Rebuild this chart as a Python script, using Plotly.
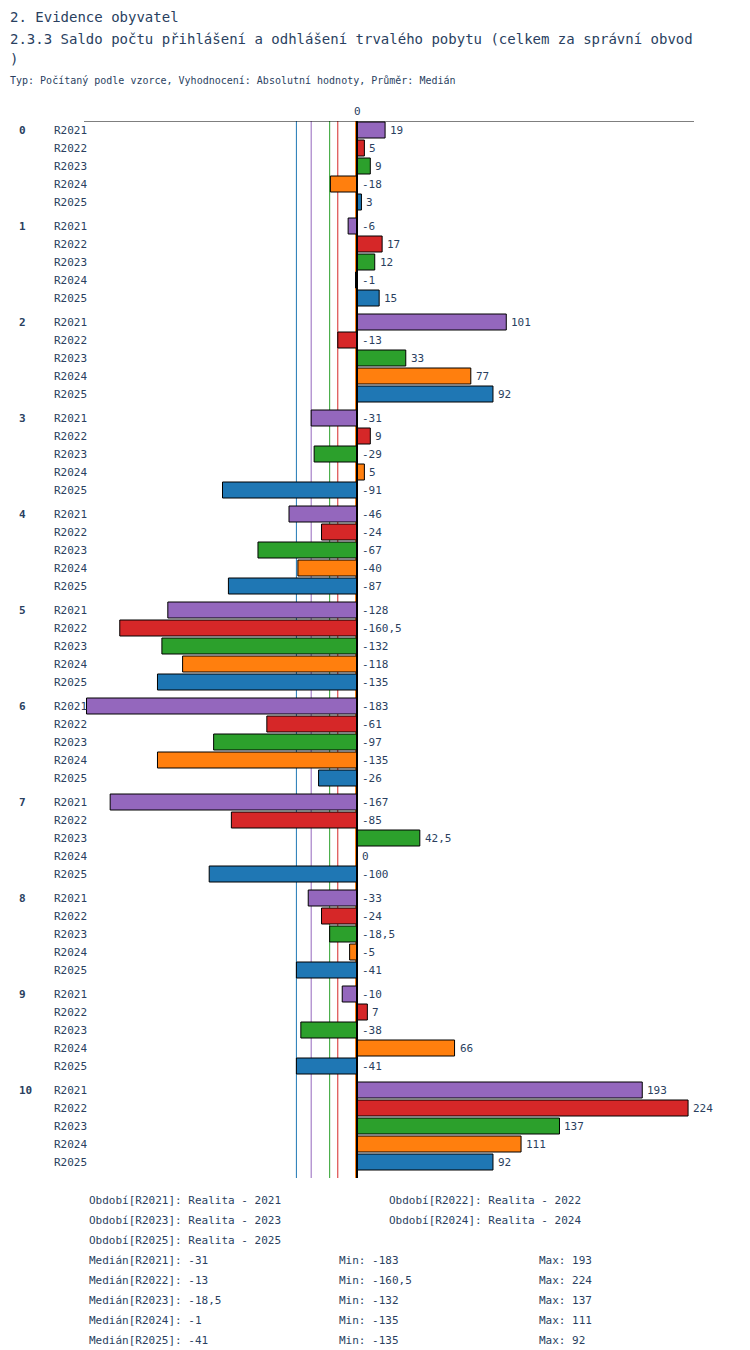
import plotly.graph_objects as go

series = ["R2021", "R2022", "R2023", "R2024", "R2025"]
colors = ["#9467bd", "#d62728", "#2ca02c", "#ff7f0e", "#1f77b4"]
groups = [str(g) for g in range(11)]
values = {
    "R2021": [19, -6, 101, -31, -46, -128, -183, -167, -33, -10, 193],
    "R2022": [5, 17, -13, 9, -24, -160.5, -61, -85, -24, 7, 224],
    "R2023": [9, 12, 33, -29, -67, -132, -97, 42.5, -18.5, -38, 137],
    "R2024": [-18, -1, 77, 5, -40, -118, -135, 0, -5, 66, 111],
    "R2025": [3, 15, 92, -91, -87, -135, -26, -100, -41, -41, 92],
}
medians = {"R2021": -31, "R2022": -13, "R2023": -18.5, "R2024": -1, "R2025": -41}
mins = {"R2021": -183, "R2022": -160.5, "R2023": -132, "R2024": -135, "R2025": -135}
maxs = {"R2021": 193, "R2022": 224, "R2023": 137, "R2024": 111, "R2025": 92}

FONT = "DejaVu Sans Mono"
L, R, T, B = 76, 686, 113, 1170


def fmt(v):
    s = ("%g" % v).replace(".", ",")
    return s.replace("-", "\u2212") if False else s


def ypos(g, i):
    return 122 + g * 96 + i * 18


fig = go.Figure()
for i, s in enumerate(series):
    ys = [ypos(g, i) for g in range(len(groups))]
    fig.add_trace(go.Bar(x=values[s], y=ys, orientation="h", width=16,
                         marker=dict(color=colors[i], line=dict(color="black", width=1)),
                         name=s, showlegend=False))
    fig.add_shape(type="line", x0=medians[s], x1=medians[s], y0=T, y1=B,
                  line=dict(color=colors[i], width=1), layer="below")
    for g in range(len(groups)):
        v = values[s][g]
        fig.add_annotation(x=max(v, 0), y=ys[g], text=fmt(v), showarrow=False,
                           xanchor="left", xshift=3, font=dict(size=11, family=FONT))
        fig.add_annotation(x=44, y=ys[g], xref="paper" if False else "x domain",
                           text=s, showarrow=False, xanchor="left",
                           font=dict(size=11, family=FONT))

# fix row labels to pixel x positions
for a in fig.layout.annotations:
    if a.xref == "x domain":
        a.x = (44 - L) / (R - L)

for g in range(len(groups)):
    fig.add_annotation(x=(9 - L) / (R - L), xref="x domain", y=ypos(g, 0), text="<b>%s</b>" % groups[g],
                       showarrow=False, xanchor="left", font=dict(size=11, family=FONT))

fig.add_shape(type="line", x0=0, x1=0, y0=T, y1=B, line=dict(color="black", width=2))
fig.add_shape(type="line", xref="x domain", x0=0, x1=1, y0=T, y1=T, line=dict(color="black", width=1))
fig.add_annotation(x=0, y=T, text="0", showarrow=False, yanchor="bottom", yshift=1,
                   font=dict(size=11, family=FONT))


def px(x, y, text, size=11, bold=False):
    fig.add_annotation(xref="paper", yref="paper", x=(x - L) / (R - L), y=(B - y) / (B - T),
                       text="<b>%s</b>" % text if bold else text, showarrow=False,
                       xanchor="left", yanchor="middle", font=dict(size=size, family=FONT))


px(0, 9, "2. Evidence obyvatel", 14)
px(0, 31, "2.3.3 Saldo počtu přihlášení a odhlášení trvalého pobytu (celkem za správní obvod", 14)
px(0, 51, ")", 14)
px(0, 73, "Typ: Počítaný podle vzorce, Vyhodnocení: Absolutní hodnoty, Průměr: Medián", 10)

px(79, 1192, "Období[R2021]: Realita - 2021")
px(379, 1192, "Období[R2022]: Realita - 2022")
px(79, 1212, "Období[R2023]: Realita - 2023")
px(379, 1212, "Období[R2024]: Realita - 2024")
px(79, 1232, "Období[R2025]: Realita - 2025")
for k, s in enumerate(series):
    y = 1252 + 20 * k
    px(79, y, "Medián[%s]: %s" % (s, fmt(medians[s])))
    px(329, y, "Min: %s" % fmt(mins[s]))
    px(529, y, "Max: %s" % fmt(maxs[s]))

fig.update_layout(
    width=750, height=1350, barmode="overlay",
    margin=dict(l=L, r=750 - R, t=T, b=1350 - B),
    plot_bgcolor="white", paper_bgcolor="white",
    xaxis=dict(range=[(L - 349) / 1.478, (R - 349) / 1.478], visible=False, fixedrange=True),
    yaxis=dict(range=[B, T], visible=False, fixedrange=True),
    font=dict(family=FONT),
)
fig.write_html("out.html")
